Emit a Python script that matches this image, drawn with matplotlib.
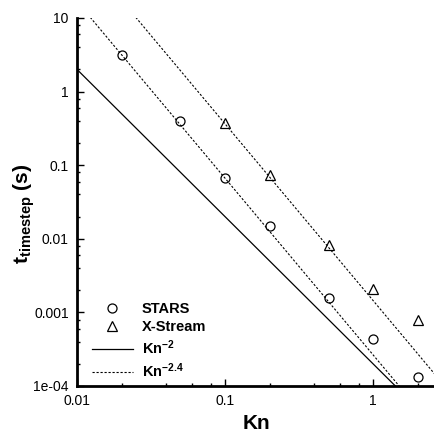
import numpy as np
import matplotlib
matplotlib.use("Agg")
import matplotlib.pyplot as plt
from matplotlib.ticker import FixedLocator, FixedFormatter, LogLocator, NullFormatter

plt.rcParams['font.family'] = ['Liberation Sans', 'DejaVu Sans']
plt.rcParams['mathtext.fontset'] = 'custom'
plt.rcParams['mathtext.rm'] = 'Liberation Sans:bold'
plt.rcParams['mathtext.it'] = 'Liberation Sans:bold'
plt.rcParams['mathtext.bf'] = 'Liberation Sans:bold'

# Data
stars_kn = [0.02, 0.05, 0.1, 0.2, 0.5, 1.0, 2.0]
stars_t = [3.1, 0.40, 0.067, 0.015, 0.00156, 0.00043, 0.000134]
xs_kn = [0.1, 0.2, 0.5, 1.0, 2.0]
xs_t = [0.38, 0.073, 0.0083, 0.0021, 0.00080]
# reference power laws: t = C * Kn^p
ref_kn = [0.005, 5.0]
solid_coef, solid_pow = 2.0e-4, -2.0
dash1_coef, dash2_coef, dash_pow = 2.65e-4, 1.45e-3, -2.4

y_ticks = [1e-4, 1e-3, 1e-2, 1e-1, 1, 10]
y_ticklabels = ['1e-04', '0.001', '0.01', '0.1', '1', '10']
x_ticks = [0.01, 0.1, 1]
x_ticklabels = ['0.01', '0.1', '1']

fig = plt.figure(figsize=(4.35, 4.34), dpi=100)
ax = fig.add_axes([0.177, 0.1106, 0.823, 0.848])

kn = np.array(ref_kn)
ax.plot(kn, solid_coef * kn ** solid_pow, color='black', lw=0.9, ls='-')
ax.plot(kn, dash1_coef * kn ** dash_pow, color='black', lw=0.8, ls=(0, (2, 1.6)))
ax.plot(kn, dash2_coef * kn ** dash_pow, color='black', lw=0.8, ls=(0, (2, 1.6)))
ax.plot(stars_kn, stars_t, ls='none', marker='o', mfc='none', mec='black', ms=6.5, mew=0.9)
ax.plot(xs_kn, xs_t, ls='none', marker='^', mfc='none', mec='black', ms=6.5, mew=0.9)

ax.set_xscale('log')
ax.set_yscale('log')
ax.set_xlim(0.01, 2.62)
ax.set_ylim(1e-4, 10)

ax.yaxis.set_major_locator(FixedLocator(y_ticks))
ax.yaxis.set_major_formatter(FixedFormatter(y_ticklabels))
ax.xaxis.set_major_locator(FixedLocator(x_ticks))
ax.xaxis.set_major_formatter(FixedFormatter(x_ticklabels))
ax.xaxis.set_minor_locator(LogLocator(base=10, subs=[2, 4, 6, 8]))
ax.yaxis.set_minor_locator(LogLocator(base=10, subs=[2, 4, 6, 8]))
ax.xaxis.set_minor_formatter(NullFormatter())
ax.yaxis.set_minor_formatter(NullFormatter())

for s in ['top', 'right']:
    ax.spines[s].set_visible(False)
for s in ['left', 'bottom']:
    ax.spines[s].set_linewidth(2.0)
ax.tick_params(which='major', direction='in', length=5, width=1.0, labelsize=10, pad=6)
ax.tick_params(which='minor', direction='in', length=2.5, width=1.0)

ax.set_xlabel('Kn', fontsize=15, fontweight='bold', labelpad=4)
ax.set_ylabel(r'$\mathrm{t_{timestep}}$ (s)', fontsize=15, fontweight='bold')
ax.yaxis.set_label_coords(-0.112, 0.468)

handles = [
    plt.Line2D([], [], ls='none', marker='o', mfc='none', mec='black', ms=6.5, mew=0.9),
    plt.Line2D([], [], ls='none', marker='^', mfc='none', mec='black', ms=6.5, mew=0.9),
    plt.Line2D([], [], color='black', lw=0.9),
    plt.Line2D([], [], color='black', lw=0.8, ls=(0, (2, 1.6))),
]
labels = ['STARS', 'X-Stream', r'Kn$^{-2}$', r'Kn$^{-2.4}$']
leg = ax.legend(handles, labels, loc='upper left', bbox_to_anchor=(0.042, 0.228),
                frameon=False, borderpad=0, borderaxespad=0, handlelength=2.8,
                handletextpad=0.6, labelspacing=0.3, prop={'weight': 'bold', 'size': 10.5})

fig.savefig('out.png', dpi=100)
